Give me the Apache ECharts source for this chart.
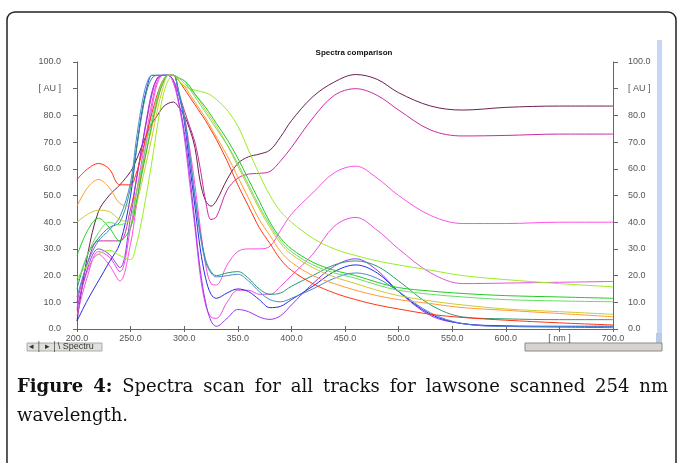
<!DOCTYPE html>
<html><head><meta charset="utf-8">
<script src="https://cdn.jsdelivr.net/npm/echarts@6/dist/echarts.min.js"></script>
<style>html,body{margin:0;padding:0;background:#fff}#c{width:678px;height:463px}</style>
</head><body><div id="c"></div>
<script>
// wavelengths (nm)
const wavelengths = [200,210,220,230,240,250,255,260,265,270,275,280,285,290,295,300,305,310,315,320,325,330,340,350,360,370,380,390,400,420,440,460,480,500,530,560,600,650,700];
// absorbance tracks [AU]
const track1 = [3,28,44,50,54,59,63,68,73,77,80,83, 84.5,85,83,80,75,68,55,48,46,48, 56,62,64.5,65.5,67,72,78, 87,92.5,95.3,93.5,88.5,83.5,82,83,83.5,83.5];
const track2 = [10,25,33,33,33,45,55,67,78,88,94,95, 95,93,88,82,76,70,60,48,41,42, 52,56.5,58,58.3,59,63,68, 79,87.5,90,87.5,82,74.5,72.3,72.5,73,73];
const track3 = [8,22,28,24,18,32,45,58,71,83,92,95, 95,93,88,80,68,54,38,24,17,16.5, 24,29,30,30,31,37,43, 51,58.5,61,56.5,50,42.5,39.5,39.5,40,40];
const track4 = [5,20,29,27,21.5,38,50,62,74,85,93,95, 95,92,84,72,55,38,20,9,4.5,4, 10,14.5,14.5,13,13,16,20, 28,38.5,41.8,37,30,21,17,17.2,17.5,17.8];
const track5 = [7,23,30,28,23,42,55,67,79,89,94,95, 95,93,85,74,58,40,22,10,3,1, 4,7.3,6.5,4.5,3.6,5,9, 17,23.5,26.3,22,14,5,2,1,0.7,0.5];
const track6 = [3,11,18,25,32,50,66,80,90,95,95,95, 95,95,88,78,62,46,30,19,13,11.5, 13.5,15,14,11,8,8.5,11, 16,21.5,24,21,14,5.5,2,1.2,1,1];
const track7 = [15,28,34,38,40,53,66,79,89,94,95,95, 95,95,89,80,66,50,36,26,21.5,20, 21,21.5,19,15,13,13.5,16, 20,24,25.5,23.5,18,9,4.5,3.8,3.5,3.5];
const track8 = [12,25,33,37,42,55,70,83,92,95,95,95, 95,95,88,79,65,49,35,25,21,19.5, 20,20.5,18,14,11,10.2,11.5, 15,19,21,19,14,6,2,1,1,1];
const track9 = [56,60,62,60,54,54,58,65,73,81,88,93, 95,95,93,90,87,84,81,78,74.5,71, 63,54,46,38,32,26,22, 17,13.5,11,9,7.5,5.5,4.3,3.3,2.3,1.5];
const track10 = [46,53,56,53,47,46,51,58,67,76,85,92, 95,95,93,91,88,85,82,79,75.5,72, 65,57,49,41,35,29,25, 20,17,14.5,12.5,11,9.5,8,7,5.8,4.6];
const track11 = [40,43,44.5,44,41,40,46,54,63,72,82,90, 95,95,94,92,90,88,85,82,79,76, 69,61,53,45,38,32,28, 23,19.5,17,14.5,12.5,10.5,9,7.5,6.5,5.5];
const track12 = [19,24,28,29.5,27.5,26,31,40,51,63,76,87, 93,95,93,91,90,89.5,89,88.5,87.5,86, 82,76,67,58,50,44,40, 34,30,27.5,25.5,24,22,20,18.5,17,15.8];
const track13 = [27.5,37,41.5,38,33,38,47,57,67,77,86,92, 95,95,94,93,91,88,85.5,83,80,77, 71,64,56,48,40,34,30, 25,22,20,17.5,15.5,14.2,13.3,12.5,12,11.5];
const track14 = [17,28,36,40,39,42,50,60,70,79,87,93, 95,95,94,93,90,87,84,81,78,75, 69,62,54,46,39,33,29, 24,21,19,16.5,14.5,13,12,11,10.5,10.2];

const tracks = [track1,track2,track3,track4,track5,track6,track7,track8,track9,track10,track11,track12,track13,track14];
const trackColors = ['#6d1f52','#cc2aa0','#ff4fe6','#e850e0','#9a35f0','#2a2ae6','#2a9a70','#4a8ad0','#ff3414','#ff9a34','#cccc30','#99ee22','#22cc22','#66dd66'];

const xTickLabels = {200:'200.0',250:'250.0',300:'300.0',350:'350.0',400:'400.0',450:'450.0',500:'500.0',550:'550.0',600:'600.0',650:'[ nm ]',700:'700.0'};
const yTickLabels = {0:'0.0',10:'10.0',20:'20.0',30:'30.0',40:'40.0',50:'50.0',60:'60.0',70:'70.0',80:'80.0',90:'[ AU ]',100:'100.0'};

const chart = echarts.init(document.getElementById('c'), null, {renderer:'canvas'});
const axisFont = {fontFamily:'Liberation Sans', fontSize:9, color:'#555'};
const axisLine = {lineStyle:{color:'#666', width:1}};

const series = tracks.map((t,i)=>({
  type:'line', name:'Track '+(i+1), symbol:'none', smooth:0.35,
  lineStyle:{width:1, color:trackColors[i]}, itemStyle:{color:trackColors[i]},
  data: wavelengths.map((w,j)=>[w,t[j]]), animation:false
}));

// caption layout: justified first line
const capFont = 18, capFamily = 'DejaVu Serif';
const words1 = [['Figure',true],['4:',true],['Spectra',false],['scan',false],['for',false],['all',false],['tracks',false],['for',false],['lawsone',false],['scanned',false],['254',false],['nm',false]];
const cv = document.createElement('canvas').getContext('2d');
const fontOf = b => (b?'bold ':'')+capFont+'px "'+capFamily+'"';
const widths = words1.map(([w,b])=>{cv.font=fontOf(b);return cv.measureText(w).width;});
const left = 17, right = 668;
const totalW = widths.reduce((a,b)=>a+b,0);
const gap = (right-left-totalW)/(words1.length-1);
const capEls = [];
let cx = left;
words1.forEach(([w,b],i)=>{
  capEls.push({type:'text', x:cx, y:387, style:{text:w, font:fontOf(b), fill:'#111', textVerticalAlign:'middle', textAlign:'left'}});
  cx += widths[i]+gap;
});
capEls.push({type:'text', x:left, y:416, style:{text:'wavelength.', font:fontOf(false), fill:'#111', textVerticalAlign:'middle', textAlign:'left'}});

chart.setOption({
  animation:false,
  backgroundColor:'#fff',
  title:{text:'Spectra comparison', left:349, top:44, textAlign:'center', textStyle:{fontFamily:'Liberation Sans', fontSize:8, fontWeight:'bold', color:'#111'}},
  grid:{left:77, right:65, top:62, bottom:134, containLabel:false},
  xAxis:[
    {type:'value', min:200, max:700, interval:50, position:'bottom', z:10,
     axisLine:axisLine, axisTick:{show:true, length:3, lineStyle:{color:'#666'}}, splitLine:{show:false},
     axisLabel:Object.assign({margin:5, formatter:v=>xTickLabels[v]||''}, axisFont)},
    {type:'value', min:200, max:700, interval:50, position:'top',
     axisLine:axisLine, axisTick:{show:true, length:3, lineStyle:{color:'#666'}}, splitLine:{show:false}, axisLabel:{show:false}}
  ],
  yAxis:[
    {type:'value', min:0, max:100, interval:10, position:'left',
     axisLine:Object.assign({show:true},axisLine), axisTick:{show:true, length:4, lineStyle:{color:'#666'}}, splitLine:{show:false},
     axisLabel:Object.assign({margin:16, formatter:v=>yTickLabels[v]||''}, axisFont)},
    {type:'value', min:0, max:100, interval:10, position:'right',
     axisLine:Object.assign({show:true},axisLine), axisTick:{show:true, length:5, lineStyle:{color:'#666'}}, splitLine:{show:false},
     axisLabel:Object.assign({margin:15, formatter:v=>yTickLabels[v]||''}, axisFont)}
  ],
  series: series,
  graphic:[
    {type:'rect', shape:{x:7, y:12, width:669, height:480, r:8}, style:{fill:'none', stroke:'#222', lineWidth:1.5}, z:-1},
    {type:'rect', shape:{x:657, y:40, width:5, height:296}, style:{fill:'#c6d7f6'}, z:-1},
    {type:'rect', shape:{x:656, y:333, width:6, height:12}, style:{fill:'#b9cbe9'}, z:-1},
    {type:'rect', shape:{x:525, y:343, width:137, height:8}, style:{fill:'#d7d4cf', stroke:'#8a8a8a', lineWidth:1}, z:-1},
    {type:'rect', shape:{x:27, y:343, width:75, height:8}, style:{fill:'#e2e0dc', stroke:'#9a9a9a', lineWidth:0.8}, z:-1},
    {type:'text', x:29, y:347, style:{text:'◂ │ ▸ │\\ Spectru', font:'9px "Liberation Sans"', fill:'#333', textVerticalAlign:'middle'}, z:0}
  ].concat(capEls)
});
</script></body></html>
